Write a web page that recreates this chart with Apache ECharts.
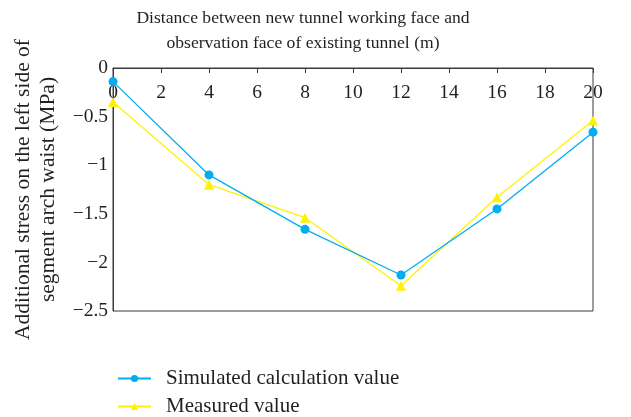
<!DOCTYPE html>
<html>
<head>
<meta charset="utf-8">
<script src="https://cdn.jsdelivr.net/npm/echarts@6/dist/echarts.min.js"></script>
<style>
  html, body { margin: 0; padding: 0; background: #fff; }
  #chart { width: 631px; height: 417px; }
</style>
</head>
<body>
<div id="chart"></div>
<script>
// Distance from working face (m)
const distances = [0, 4, 8, 12, 16, 20];
// Additional stress at left arch waist (MPa)
const simulatedValues = [-0.14, -1.10, -1.66, -2.13, -1.45, -0.66];
const measuredValues = [-0.35, -1.20, -1.54, -2.24, -1.33, -0.54];
const seriesNames = ['Simulated calculation value', 'Measured value'];
const xAxisTitle = 'Distance between new tunnel working face and\nobservation face of existing tunnel (m)';
const yAxisTitle = 'Additional stress on the left side of\nsegment arch waist (MPa)';

const FONT = 'Liberation Serif';
const TEXT = '#231f20';
const LINE = '#3a3a3a';

const pairs = (xs, ys) => xs.map((x, i) => [x, ys[i]]);

// one legend block per series, stacked vertically under the plot
const legendBlock = (name, top) => ({
  show: true,
  left: 112, top: top,
  itemWidth: 33, itemHeight: 9,
  textStyle: { fontFamily: FONT, fontSize: 21, color: TEXT, padding: [0, 0, 0, 10] },
  data: [name]
});

const chart = echarts.init(document.getElementById('chart'));
chart.setOption({
  animation: false,
  textStyle: { fontFamily: FONT, color: TEXT },
  grid: {
    left: 113, right: 38, top: 68, bottom: 106,
    show: true, borderColor: LINE, borderWidth: 1, backgroundColor: 'transparent'
  },
  legend: [legendBlock(seriesNames[0], 363), legendBlock(seriesNames[1], 391)],
  xAxis: {
    type: 'value', position: 'top',
    min: 0, max: 20, interval: 2,
    name: xAxisTitle, nameLocation: 'middle', nameGap: 12,
    nameTextStyle: {
      fontFamily: FONT, fontSize: 17.6, color: TEXT, lineHeight: 25,
      padding: [0, 100, 0, 0]
    },
    axisLine: { show: true, lineStyle: { color: LINE, width: 1 } },
    axisTick: { show: true, inside: true, length: 5, lineStyle: { color: LINE } },
    axisLabel: { inside: true, margin: 15, fontFamily: FONT, fontSize: 19.5, color: TEXT },
    splitLine: { show: false }
  },
  yAxis: {
    type: 'value',
    min: -2.5, max: 0, interval: 0.5,
    name: yAxisTitle, nameLocation: 'middle', nameGap: 52,
    nameTextStyle: { fontFamily: FONT, fontSize: 21.5, color: TEXT, lineHeight: 25 },
    axisLine: { show: true, lineStyle: { color: LINE, width: 1 } },
    axisTick: { show: false },
    axisLabel: {
      margin: 5, fontFamily: FONT, fontSize: 19.5, color: TEXT,
      formatter: v => String(v).replace('-', '\u2212')
    },
    splitLine: { show: false }
  },
  series: [
    {
      name: seriesNames[0], type: 'line',
      data: pairs(distances, simulatedValues),
      symbol: 'circle', symbolSize: 9,
      itemStyle: { color: '#00aeef' },
      lineStyle: { color: '#00aeef', width: 1.3 },
      z: 3
    },
    {
      name: seriesNames[1], type: 'line',
      data: pairs(distances, measuredValues),
      symbol: 'triangle', symbolSize: 10,
      itemStyle: { color: '#fff200' },
      lineStyle: { color: '#fff200', width: 1.3 },
      z: 2
    }
  ]
});
</script>
</body>
</html>
